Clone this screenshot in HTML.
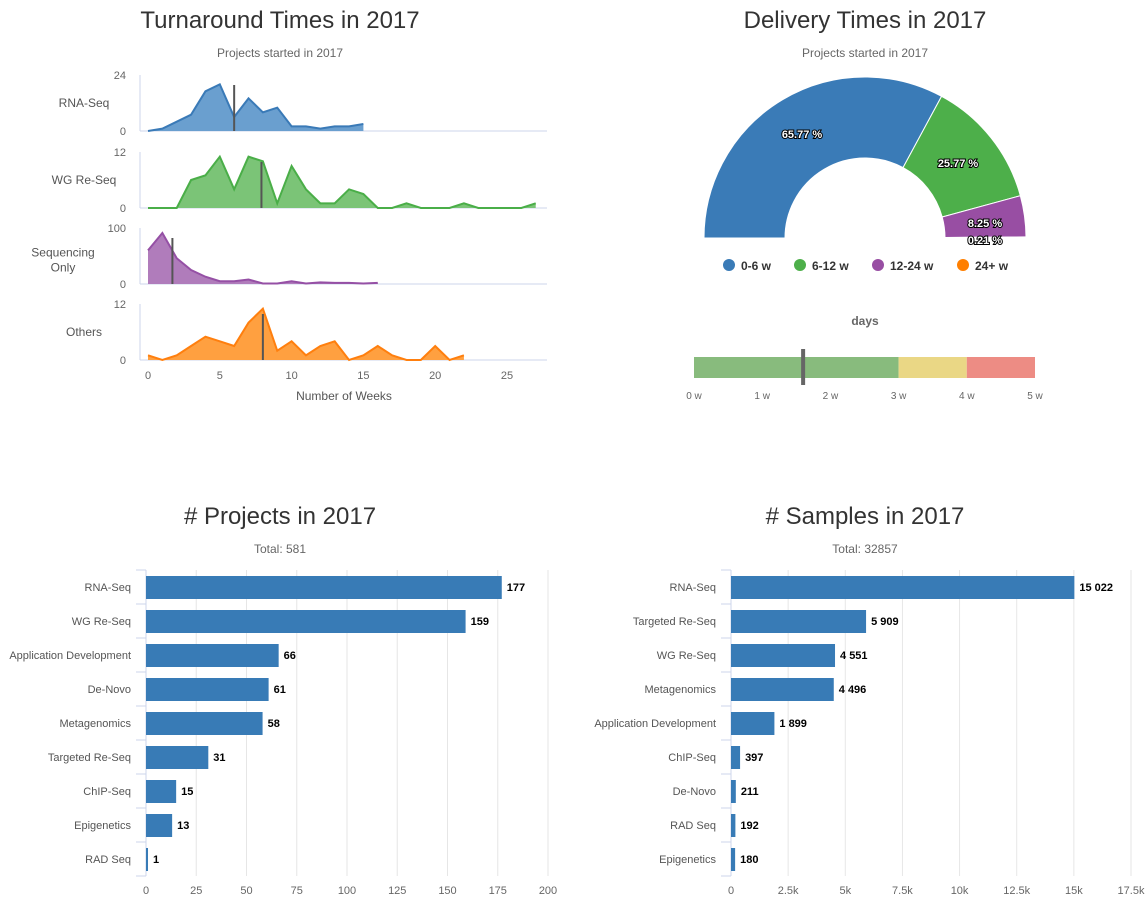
<!DOCTYPE html>
<html><head><meta charset="utf-8"><style>
body{margin:0;background:#fff;font-family:"Liberation Sans",sans-serif;}
svg text{font-family:"Liberation Sans",sans-serif;}
</style></head><body>
<svg id="root" width="1145" height="905" xmlns="http://www.w3.org/2000/svg">
<g id="ta"></g>
<g id="dl"></g>
<g id="pr"></g>
<g id="sm"></g>
</svg>
<script>
const rnaSeq=[0,1,4,7,17,20,6,14,8,10,2,2,1,2,2,3];
const wgReSeq=[0,0,0,6,7,11,4,11,10,1,9,4,1,1,4,3,0,0,1,0,0,0,1,0,0,0,0,1];
const seqOnly=[60,91,46,25,13,5,5,8,1,1,5,1,3,2,2,1,2];
const others=[1,0,1,3,5,4,3,8,11,2,4,1,3,4,0,1,3,1,0,0,3,0,1];
const medians=[6,7.9,1.7,8];
const panelNames=["RNA-Seq","WG Re-Seq","Sequencing|Only","Others"];
const panelMax=[24,12,100,12];
const weekTicks=[0,5,10,15,20,25];
const gaugeLabels=["0-6 w","6-12 w","12-24 w","24+ w"];
const gaugeValues=[65.77,25.77,8.25,0.21];
const bulletBands=[3,4,5];
const bulletMarker=1.6;
const bulletTicks=[0,1,2,3,4,5];
const projCats=["RNA-Seq","WG Re-Seq","Application Development","De-Novo","Metagenomics","Targeted Re-Seq","ChIP-Seq","Epigenetics","RAD Seq"];
const projVals=[177,159,66,61,58,31,15,13,1];
const projTicks=[0,25,50,75,100,125,150,175,200];
const sampCats=["RNA-Seq","Targeted Re-Seq","WG Re-Seq","Metagenomics","Application Development","ChIP-Seq","De-Novo","RAD Seq","Epigenetics"];
const sampVals=[15022,5909,4551,4496,1899,397,211,192,180];
const sampTicks=[0,2500,5000,7500,10000,12500,15000,17500];

const NS="http://www.w3.org/2000/svg";
function mk(p,tag,at,txt){const e=document.createElementNS(NS,tag);for(const k in at)e.setAttribute(k,at[k]);if(txt!==undefined)e.textContent=txt;p.appendChild(e);return e;}
function title(g,x,t,s,y){
 const a=mk(g,"text",{x:x,y:y||28,"text-anchor":"middle","font-size":24,fill:"#333"},t);
 
 
 const b=mk(g,"text",{x:x,y:(y||28)+29,"text-anchor":"middle","font-size":12,fill:"#666"},s);
 
 
}
// Turnaround
(function(){
 const g=document.getElementById("ta");
 title(g,280,"Turnaround Times in 2017","Projects started in 2017");
 const x=w=>148+w*14.36;
 const series=[rnaSeq,wgReSeq,seqOnly,others];
 const cols=[["#3a7ab7","#6a9fcf"],["#4aae48","#7bc477"],["#9550a5","#b07cbb"],["#ff7f0e","#ffa040"]];
 const bases=[131,208,284,360];
 series.forEach((d,i)=>{
  const base=bases[i],h=56,y=v=>base-v/panelMax[i]*h;
  const pg=mk(g,"g",{});
  
  
  mk(pg,"line",{x1:140,x2:547,y1:base,y2:base,stroke:"#ccd6eb"});
  mk(pg,"line",{x1:140,x2:140,y1:base-h,y2:base,stroke:"#ccd6eb"});
  mk(pg,"text",{x:126,y:base-h+4,"text-anchor":"end","font-size":11,fill:"#666"},panelMax[i]);
  mk(pg,"text",{x:126,y:base+4,"text-anchor":"end","font-size":11,fill:"#666"},0);
  const parts=panelNames[i].split("|");
  parts.forEach((p,k)=>mk(pg,"text",{x:parts.length>1?63:84,y:base-28+(parts.length>1?8:4)+(k-(parts.length-1)/2)*15,"text-anchor":"middle","font-size":12,fill:"#555"},p));
  let pts=d.map((v,j)=>x(j)+","+y(v)).join(" ");
  const ar=mk(pg,"polygon",{points:x(0)+","+base+" "+pts+" "+x(d.length-1)+","+base,fill:cols[i][1]});
  
  
  mk(pg,"polyline",{points:pts,fill:"none",stroke:cols[i][0],"stroke-width":2});
  const ml=mk(pg,"line",{x1:x(medians[i]),x2:x(medians[i]),y1:base-h+10,y2:base,stroke:"#555","stroke-width":2});
  
  
 });
 weekTicks.forEach(t=>mk(g,"text",{x:x(t),y:379,"text-anchor":"middle","font-size":11,fill:"#666"},t));
 const xt=mk(g,"text",{x:344,y:400,"text-anchor":"middle","font-size":12,fill:"#555"},"Number of Weeks");
 
 
})();
// Delivery
(function(){
 const g=document.getElementById("dl");
 title(g,865,"Delivery Times in 2017","Projects started in 2017");
 const cx=865,cy=238,R=161,r=80;
 const cols=["#3a7bb7","#4daf4a","#984ea3","#ff7f00"];
 const tot=gaugeValues.reduce((a,b)=>a+b,0);
 let a0=Math.PI;
 const lblPos=[[802,138],[958,167],[985,227],[985,244]];
 gaugeValues.forEach((v,i)=>{
  const a1=a0+v/tot*Math.PI;
  const P=(rad,a)=>[cx+rad*Math.cos(a),cy+rad*Math.sin(a)];
  const [x1,y1]=P(R,a0),[x2,y2]=P(R,a1),[x3,y3]=P(r,a1),[x4,y4]=P(r,a0);
  const s=mk(g,"path",{d:`M${x1},${y1}A${R},${R} 0 0 1 ${x2},${y2}L${x3},${y3}A${r},${r} 0 0 0 ${x4},${y4}Z`,fill:cols[i],stroke:"#fff","stroke-width":1});
  
  
  const lt=mk(g,"text",{x:lblPos[i][0],y:lblPos[i][1],"text-anchor":"middle","font-size":11,"font-weight":"bold",fill:"#fff",stroke:"#000","stroke-width":2,"paint-order":"stroke"},v.toFixed(2)+" %");
  
  
  a0=a1;
 });
 const lx=[729,800,878,963];
 gaugeLabels.forEach((l,i)=>{
  const lg=mk(g,"g",{});
  
  
  mk(lg,"circle",{cx:lx[i],cy:265,r:6,fill:cols[i]});
  mk(lg,"text",{x:lx[i]+12,y:270,"font-size":12,"font-weight":"bold",fill:"#333"},l);
 });
 const dt=mk(g,"text",{x:865,y:325,"text-anchor":"middle","font-size":12,"font-weight":"bold",fill:"#666"},"days");
 
 
 const bx=w=>694+w*68.2;
 const bc=["#88bb7d","#ead785","#ed8c84"];
 let prev=0;
 bulletBands.forEach((b,i)=>{const rr=mk(g,"rect",{x:bx(prev),y:357,width:bx(b)-bx(prev),height:21,fill:bc[i]});
  
  prev=b;});
 const mkr=mk(g,"rect",{x:bx(bulletMarker)-2,y:349,width:4,height:36,fill:"#666"});
 
 
 bulletTicks.forEach(t=>mk(g,"text",{x:bx(t),y:399,"text-anchor":"middle","font-size":10,fill:"#666"},t+" w"));
})();
// bar charts
function bars(id,cx,t,s,cats,vals,ticks,x0,x1,max,fmtTick,fmtVal){
 const g=document.getElementById(id);
 title(g,cx,t,s,524);
 const x=v=>x0+v/max*(x1-x0);
 ticks.forEach(tk=>{
  mk(g,"line",{x1:x(tk),x2:x(tk),y1:570,y2:876,stroke:"#e6e6e6"});
  mk(g,"text",{x:x(tk),y:894,"text-anchor":"middle","font-size":11,fill:"#666"},fmtTick(tk));
 });
 mk(g,"line",{x1:x0,x2:x0,y1:570,y2:876,stroke:"#ccd6eb"});
 cats.forEach((c,i)=>{
  const yc=587+i*34;
  mk(g,"line",{x1:x0-10,x2:x0,y1:570+i*34,y2:570+i*34,stroke:"#ccd6eb"});
  mk(g,"text",{x:x0-15,y:yc+4,"text-anchor":"end","font-size":11,fill:"#555"},c);
  const b=mk(g,"rect",{x:x0,y:yc-11,width:Math.max(1.5,x(vals[i])-x0),height:23,fill:"#387bb6"});
  
  
  const vl=mk(g,"text",{x:Math.max(x0+1.5,x(vals[i]))+5,y:yc+4,"font-size":11,"font-weight":"bold",fill:"#000"},fmtVal(vals[i]));
  
  
 });
 mk(g,"line",{x1:x0-10,x2:x0,y1:876,y2:876,stroke:"#ccd6eb"});
}
bars("pr",280,"# Projects in 2017","Total: 581",projCats,projVals,projTicks,146,548,200,t=>t,v=>v);
bars("sm",865,"# Samples in 2017","Total: 32857",sampCats,sampVals,sampTicks,731,1131,17500,t=>t===0?"0":(t/1000)+"k",v=>v>=1000?Math.floor(v/1000)+" "+String(v%1000).padStart(3,"0"):String(v));
</script>
</body></html>
